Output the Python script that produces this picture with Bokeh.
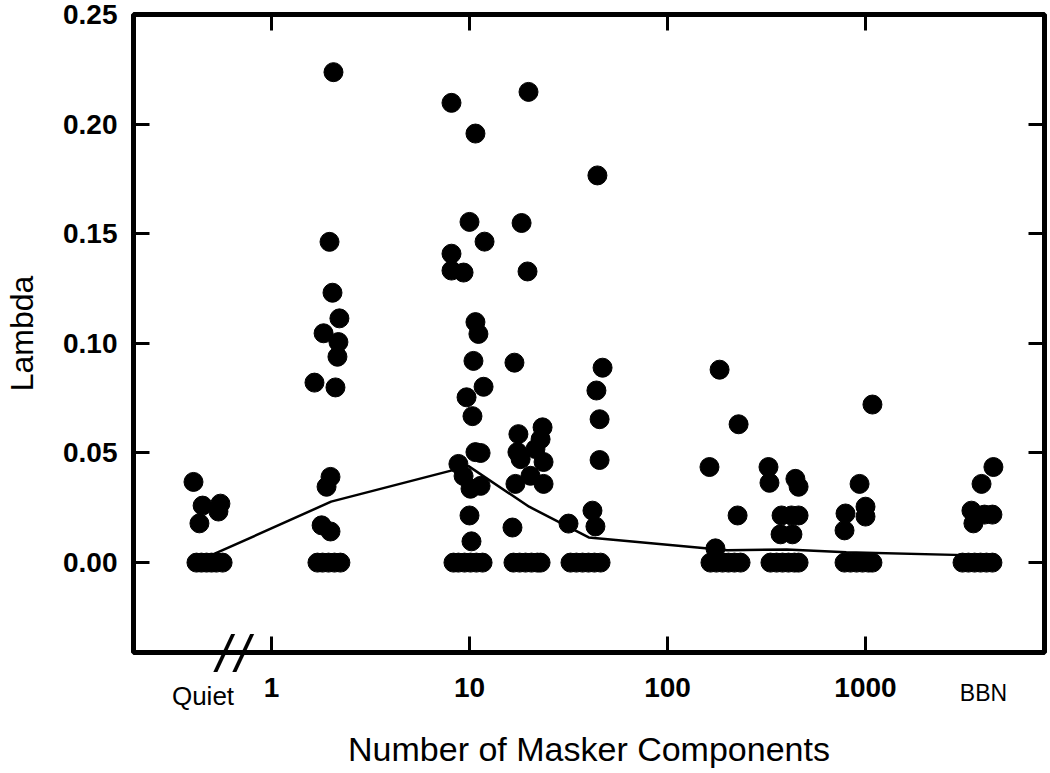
from bokeh.plotting import figure
from bokeh.models import (LinearAxis, FixedTicker, Range1d, NumeralTickFormatter,
                          ColumnDataSource)
from bokeh.embed import file_html
from bokeh.resources import INLINE

# ---------------- data (x = position on the log10 axis of component count) ----
decade_ticks = [0, 1, 2, 3]
decade_labels = ["1", "10", "100", "1000"]
lambda_ticks = [0.0, 0.05, 0.10, 0.15, 0.20, 0.25]

quiet_pos = -0.346   # position of the "Quiet" condition label
bbn_pos = 3.596      # position of the broadband-noise condition label
break_pos = [-0.242, -0.146]   # axis-break marks between Quiet and 1

# individual listeners' lambda values (x jittered around each condition)
pt_x = [
    # Quiet
    -0.394, -0.348, -0.258, -0.268, -0.364,
    -0.379, -0.354, -0.328, -0.303, -0.278, -0.247,
    # 2 components
    0.313, 0.293, 0.308, 0.343, 0.263, 0.338, 0.333, 0.217, 0.323, 0.298,
    0.278, 0.253, 0.298,
    0.232, 0.258, 0.288, 0.318, 0.348,
    # 10 components
    0.909, 1.030, 1.000, 1.076, 0.909, 0.909, 0.970, 1.030, 1.045, 1.020,
    1.071, 0.985, 1.015, 1.030, 1.056, 0.944, 0.970, 1.056, 1.005, 1.000, 1.010,
    0.919, 0.944, 0.975, 1.005, 1.035, 1.066,
    # 20 components
    1.298, 1.263, 1.293, 1.227, 1.247, 1.369, 1.359, 1.333, 1.242, 1.258,
    1.374, 1.308, 1.374, 1.232, 1.217,
    1.222, 1.253, 1.283, 1.313, 1.343, 1.359,
    # 40 components
    1.646, 1.672, 1.641, 1.657, 1.657, 1.621, 1.636, 1.500,
    1.510, 1.540, 1.571, 1.601, 1.631, 1.662,
    # 200 components
    2.263, 2.359, 2.212, 2.354, 2.242,
    2.217, 2.247, 2.278, 2.308, 2.338, 2.369,
    # 400 components
    2.510, 2.515, 2.646, 2.662, 2.576, 2.626, 2.662, 2.571, 2.631,
    2.520, 2.551, 2.581, 2.611, 2.641, 2.662,
    # 1000 components
    3.035, 2.970, 3.000, 3.000, 2.899, 2.894,
    2.894, 2.924, 2.955, 2.985, 3.015, 3.035,
    # BBN
    3.646, 3.586, 3.535, 3.545, 3.641, 3.601,
    3.490, 3.520, 3.551, 3.581, 3.611, 3.641,
]
pt_lambda = [
    # Quiet
    0.0368, 0.0260, 0.0269, 0.0233, 0.0179,
    0, 0, 0, 0, 0, 0,
    # 2
    0.2237, 0.1463, 0.1231, 0.1114, 0.1046, 0.1006, 0.0939, 0.0821, 0.0799, 0.0391,
    0.0346, 0.0170, 0.0142,
    0, 0, 0, 0, 0,
    # 10
    0.2097, 0.1957, 0.1554, 0.1464, 0.1409, 0.1332, 0.1323, 0.1097, 0.1043, 0.0920,
    0.0802, 0.0754, 0.0668, 0.0504, 0.0500, 0.0450, 0.0395, 0.0350, 0.0337, 0.0215, 0.0097,
    0, 0, 0, 0, 0, 0,
    # 20
    0.2147, 0.1549, 0.1328, 0.0912, 0.0586, 0.0617, 0.0563, 0.0518, 0.0504, 0.0472,
    0.0459, 0.0396, 0.0359, 0.0359, 0.0160,
    0, 0, 0, 0, 0, 0,
    # 40
    0.1766, 0.0889, 0.0785, 0.0654, 0.0468, 0.0237, 0.0165, 0.0178,
    0, 0, 0, 0, 0, 0,
    # 200
    0.0880, 0.0631, 0.0436, 0.0215, 0.0065,
    0, 0, 0, 0, 0, 0,
    # 400
    0.0436, 0.0364, 0.0382, 0.0346, 0.0215, 0.0215, 0.0215, 0.0129, 0.0129,
    0, 0, 0, 0, 0, 0,
    # 1000
    0.0721, 0.0359, 0.0255, 0.0210, 0.0224, 0.0147,
    0, 0, 0, 0, 0, 0,
    # BBN
    0.0436, 0.0359, 0.0237, 0.0179, 0.0219, 0.0219,
    0, 0, 0, 0, 0, 0,
]

# group means (line)
mean_x = [-0.298, 0.301, 0.995, 1.301, 1.602, 2.301, 2.602, 2.903, 3.55]
mean_lambda = [0.0036, 0.0278, 0.0440, 0.0255, 0.0115, 0.0056, 0.0060, 0.0047, 0.0033]

# ---------------- figure ----------------
FONT = "Liberation Sans"
Y0, Y1 = -0.041, 0.25
p = figure(width=1048, height=770, output_backend="svg", toolbar_location=None,
           x_range=Range1d(-0.697, 3.904), y_range=Range1d(Y0, Y1),
           x_axis_type=None, y_axis_type=None,
           min_border_left=133, min_border_right=4, min_border_top=14,
           min_border_bottom=115)
p.grid.visible = False
p.outline_line_color = "black"
p.outline_line_width = 5
p.background_fill_color = "white"
p.border_fill_color = "white"


def base_axis(ticks):
    ax = LinearAxis()
    ax.ticker = FixedTicker(ticks=ticks, minor_ticks=[])
    ax.axis_line_color = None
    ax.minor_tick_line_color = None
    ax.major_tick_out = 0
    ax.major_tick_in = 0
    return ax


def tick_axis(ticks):
    """Inward ticks only, no labels."""
    ax = base_axis(ticks)
    ax.major_tick_in = 16
    ax.major_tick_line_width = 3
    ax.major_tick_line_color = "black"
    ax.major_label_text_font_size = "0px"
    ax.major_label_text_color = None
    ax.major_label_standoff = 0
    return ax


def label_axis(ticks, labels, size, style, standoff):
    """Labels only (no tick lines)."""
    ax = base_axis(ticks)
    ax.major_tick_line_color = None
    ax.major_label_overrides = {t: s for t, s in zip(ticks, labels)}
    ax.major_label_text_font = FONT
    ax.major_label_text_font_style = style
    ax.major_label_text_font_size = size
    ax.major_label_text_color = "black"
    ax.major_label_standoff = standoff
    return ax


# ----- bottom side: stacked from the frame outward -----
p.add_layout(tick_axis(decade_ticks), "below")                       # ticks
p.add_layout(label_axis(break_pos, ["/", "/"], "52px", "italic", -28), "below")
p.add_layout(label_axis(decade_ticks, decade_labels, "28px", "bold", -8), "below")
p.add_layout(label_axis([quiet_pos], ["Quiet"], "26px", "normal", -19), "below")
xn = label_axis([bbn_pos], ["BBN"], "23px", "normal", -34)
xn.axis_label = "Number of Masker Components"
xn.axis_label_text_font = FONT
xn.axis_label_text_font_style = "normal"
xn.axis_label_text_font_size = "34px"
xn.axis_label_text_color = "black"
xn.axis_label_standoff = 21
p.add_layout(xn, "below")

# ----- other sides -----
p.add_layout(tick_axis(decade_ticks), "above")
p.add_layout(tick_axis(lambda_ticks), "right")

yl = tick_axis(lambda_ticks)
yl.formatter = NumeralTickFormatter(format="0.00")
yl.major_label_text_font = FONT
yl.major_label_text_font_style = "bold"
yl.major_label_text_font_size = "28px"
yl.major_label_text_color = "black"
yl.major_label_standoff = 16
yl.axis_label = "Lambda"
yl.axis_label_text_font = FONT
yl.axis_label_text_font_style = "normal"
yl.axis_label_text_font_size = "32px"
yl.axis_label_text_color = "black"
yl.axis_label_standoff = 20
p.add_layout(yl, "left")

# ----- data -----
p.line(mean_x, mean_lambda, line_color="black", line_width=2.5)
src = ColumnDataSource(dict(x=pt_x, y=pt_lambda))
p.scatter("x", "y", source=src, size=19, fill_color="black", line_color="black")

open("out.html", "w").write(file_html(p, INLINE))
